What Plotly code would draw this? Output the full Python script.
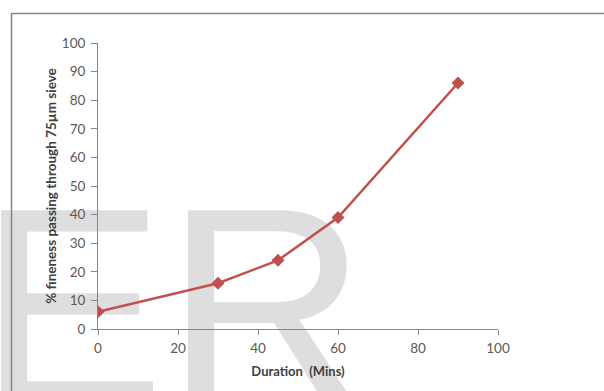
import plotly.graph_objects as go

# Data
duration = [0, 30, 45, 60, 90]
fineness = [6, 16, 24, 39, 86]
x_ticks = [0, 20, 40, 60, 80, 100]
y_ticks = [0, 10, 20, 30, 40, 50, 60, 70, 80, 90, 100]
x_title = "Duration\u00a0 (Mins)"
y_title = "% fineness passing through 75\u00b5m sieve"
watermark = "ER"

W, H = 604, 391
ML, MR, MT, MB = 98, 106, 43, 62

fig = go.Figure()

# background watermark (decoration, drawn below the data line)
fig.add_trace(go.Scatter(
    x=[67.3], y=[47.6], mode="text", text=[watermark],
    textposition="bottom left",
    textfont=dict(family="Liberation Sans", size=280, color="#dedede"),
    cliponaxis=False, hoverinfo="skip", showlegend=False,
))

fig.add_trace(go.Scatter(
    x=duration, y=fineness, mode="lines+markers",
    line=dict(color="#c0504d", width=2.5),
    marker=dict(symbol="diamond", size=10, color="#c0504d"),
    showlegend=False,
))

axis_common = dict(
    showline=True, linecolor="#868686", linewidth=1,
    ticks="outside", tickcolor="#868686",
    showgrid=False, zeroline=False, automargin=False,
    tickfont=dict(family="Lato", size=13.5, color="#595959"),
)

fig.update_xaxes(range=[0, 100], tickvals=x_ticks, ticklen=5, ticklabelstandoff=2,
                 **axis_common,
                 title=dict(text=x_title, standoff=11,
                            font=dict(family="Lato", size=13, color="#404040", weight="bold")))
fig.update_yaxes(range=[0, 100], tickvals=y_ticks, ticklen=6, ticklabelstandoff=3,
                 **axis_common,
                 title=dict(text=y_title, standoff=2,
                            font=dict(family="Lato", size=13.5, color="#404040", weight="bold")))

# outer chart border (extends past right and bottom edges)
pw, ph = W - ML - MR, H - MT - MB
fig.add_shape(type="rect", xref="paper", yref="paper",
              x0=(11.5 - ML) / pw, x1=(W + 20 - ML) / pw,
              y0=(H - MB - (H + 20)) / ph, y1=(H - MB - 13.5) / ph,
              line=dict(color="#858585", width=1.5), fillcolor="rgba(0,0,0,0)",
              layer="above")

fig.update_layout(
    width=W, height=H,
    margin=dict(l=ML, r=MR, t=MT, b=MB, autoexpand=False),
    paper_bgcolor="white", plot_bgcolor="rgba(0,0,0,0)",
)

fig.write_html(
    "out.html",
    config={"displayModeBar": False},
    post_script="document.body.style.margin='0';document.body.style.overflow='hidden';",
)
